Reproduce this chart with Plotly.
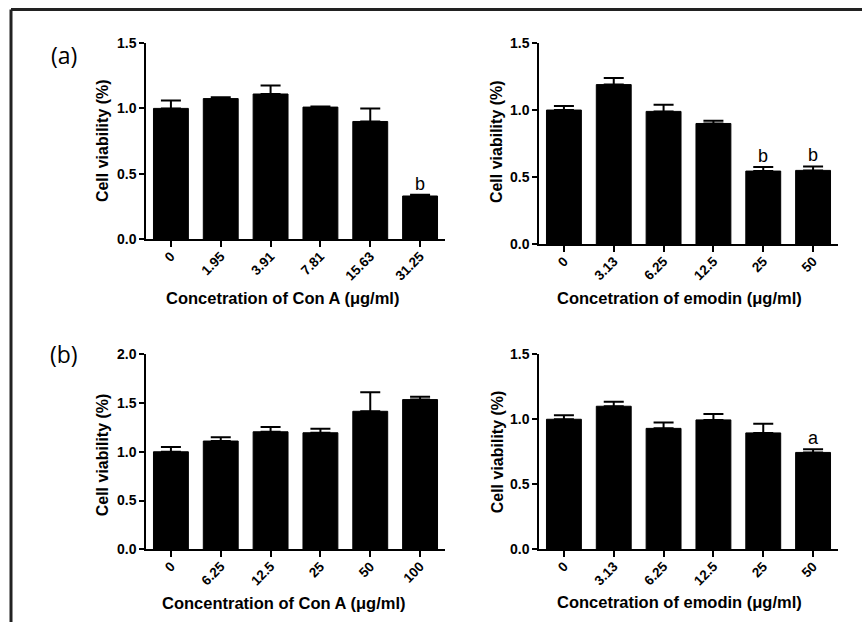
import plotly.graph_objects as go

# ---- data ----
conA_a_labels = ["0", "1.95", "3.91", "7.81", "15.63", "31.25"]
conA_a_vals = [1.00, 1.075, 1.11, 1.01, 0.90, 0.33]
conA_a_err = [0.06, 0.01, 0.066, 0.005, 0.10, 0.01]
conA_a_sig = ["", "", "", "", "", "b"]

emo_a_labels = ["0", "3.13", "6.25", "12.5", "25", "50"]
emo_a_vals = [1.00, 1.19, 0.99, 0.90, 0.545, 0.55]
emo_a_err = [0.03, 0.05, 0.05, 0.02, 0.03, 0.03]
emo_a_sig = ["", "", "", "", "b", "b"]

conA_b_labels = ["0", "6.25", "12.5", "25", "50", "100"]
conA_b_vals = [1.00, 1.11, 1.205, 1.195, 1.415, 1.535]
conA_b_err = [0.05, 0.04, 0.05, 0.04, 0.195, 0.03]
conA_b_sig = ["", "", "", "", "", ""]

emo_b_labels = ["0", "3.13", "6.25", "12.5", "25", "50"]
emo_b_vals = [1.00, 1.10, 0.93, 0.995, 0.895, 0.745]
emo_b_err = [0.03, 0.035, 0.045, 0.045, 0.07, 0.025]
emo_b_sig = ["", "", "", "", "", "a"]

x_titles = ["Concetration of Con A (μg/ml)", "Concetration of emodin (μg/ml)",
            "Concentration of Con A (μg/ml)", "Concetration of emodin (μg/ml)"]
y_title = "Cell viability (%)"
y_max = [1.5, 1.5, 2.0, 1.5]
panel_tags = ["(a)", "(b)"]

W, H = 862, 630
FONT = "Arial, Liberation Sans, sans-serif"


def fy(y):
    # target pixel row -> paper fraction (compensates page offset/scale)
    return 1 - ((y - 8) / 0.974) / H


panels = [
    (conA_a_labels, conA_a_vals, conA_a_err, conA_a_sig),
    (emo_a_labels, emo_a_vals, emo_a_err, emo_a_sig),
    (conA_b_labels, conA_b_vals, conA_b_err, conA_b_sig),
    (emo_b_labels, emo_b_vals, emo_b_err, emo_b_sig),
]

# pixel geometry: (x_left, x_right, y_zero, y_top)
geom = [
    (146, 445, 239, 43),
    (539, 838, 244, 43),
    (146, 445, 549, 354),
    (539, 838, 549, 354),
]
xt_pos = [(282, 298), (679, 298), (284, 603), (679, 602)]
yt_pos = [(102, 141), (496, 142), (102, 455), (497, 451)]
tag_pos = [(64, 55), (64, 354)]

fig = go.Figure()
annotations = []
layout_axes = {}
for i, (labels, vals, err, sig) in enumerate(panels):
    n = "" if i == 0 else str(i + 1)
    xa, ya = "x" + n, "y" + n
    idx = list(range(len(labels)))
    fig.add_trace(go.Bar(
        x=idx, y=vals, xaxis=xa, yaxis=ya, width=0.7,
        marker=dict(color="black", line=dict(color="black", width=1)),
        error_y=dict(type="data", symmetric=False, array=err,
                     arrayminus=[0] * len(err), color="black",
                     thickness=2, width=10),
        showlegend=False, hoverinfo="skip",
    ))
    x0, x1, yz, yt = geom[i]
    layout_axes["xaxis" + n] = dict(
        domain=[x0 / W, x1 / W], anchor=ya,
        range=[-0.5, len(labels) - 0.5], tickmode="array",
        tickvals=idx, ticktext=labels, showline=True, linecolor="black",
        linewidth=2, ticks="outside", ticklen=6, tickwidth=1.5,
        tickcolor="black", tickangle=-45, showgrid=False, zeroline=False,
        ticklabelstandoff=-4,
        tickfont=dict(family=FONT, size=13.5, color="black", weight="bold"),
    )
    layout_axes["yaxis" + n] = dict(
        domain=[fy(yz), fy(yt)], anchor=xa, range=[0, y_max[i]],
        dtick=0.5, tickformat=".1f", showline=True, linecolor="black",
        linewidth=1.5, ticks="outside", ticklen=5, tickwidth=1.5,
        tickcolor="black", showgrid=False, zeroline=False,
        tickfont=dict(family=FONT, size=14, color="black", weight="bold"),
    )
    for k, (v, e, s) in enumerate(zip(vals, err, sig)):
        if s:
            annotations.append(dict(
                x=k, y=v + e, xref=xa, yref=ya, text=s, showarrow=False,
                yanchor="bottom", yshift=-1,
                font=dict(family=FONT, size=18, color="black")))
    tx, ty = xt_pos[i]
    annotations.append(dict(
        x=tx / W, y=fy(ty), xref="paper", yref="paper", text=x_titles[i],
        showarrow=False, xanchor="center", yanchor="middle",
        font=dict(family=FONT, size=16.5, color="black", weight="bold")))
    yx, yy = yt_pos[i]
    annotations.append(dict(
        x=yx / W, y=fy(yy), xref="paper", yref="paper", text=y_title,
        showarrow=False, textangle=-90, xanchor="center", yanchor="middle",
        font=dict(family=FONT, size=16, color="black", weight="bold")))

for t, (px, py) in zip(panel_tags, tag_pos):
    annotations.append(dict(
        x=px / W, y=fy(py), xref="paper", yref="paper", text=t,
        showarrow=False, xanchor="center", yanchor="middle",
        font=dict(family="Open Sans, sans-serif", size=23, color="black")))

top = 1 - 1.5 / H
shapes = [
    dict(type="line", xref="paper", yref="paper", x0=11 / W, x1=1,
         y0=top, y1=top, line=dict(color="#222", width=3)),
    dict(type="line", xref="paper", yref="paper", x0=11 / W, x1=11 / W,
         y0=0, y1=top, line=dict(color="#222", width=3)),
]

fig.update_layout(
    width=W, height=H, margin=dict(l=0, r=0, t=0, b=0),
    paper_bgcolor="white", plot_bgcolor="white",
    annotations=annotations, shapes=shapes,
    **layout_axes,
)
fig.write_html("out.html", config={"displayModeBar": False},
               post_script="document.body.style.margin='0';"
                           "document.body.style.padding='0';")
